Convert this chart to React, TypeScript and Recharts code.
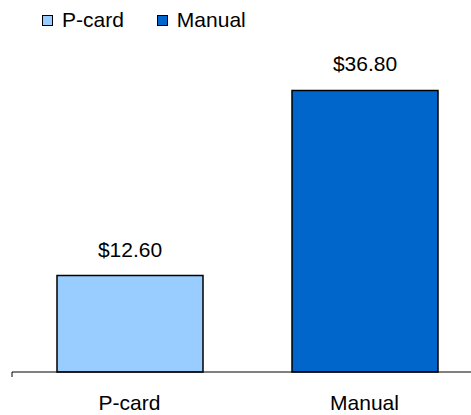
import { BarChart, Bar, XAxis, YAxis, Cell, LabelList } from 'recharts';

const categories = ['P-card', 'Manual'];
const costs = [12.6, 36.8];
const barColors = ['#99CCFF', '#0066CC'];

const data = categories.map((name, i) => ({ name, cost: costs[i] }));

const FONT = '"Liberation Sans", Arial, sans-serif';

function formatDollars(v: number): string {
  return `$${Number(v).toFixed(2)}`;
}

// tick lines only, no tick text
function NoTickText() {
  return <g />;
}

function LegendRow() {
  return (
    <div
      style={{
        position: 'absolute',
        top: 8,
        left: 42,
        display: 'flex',
        alignItems: 'center',
        fontSize: 21,
        fontFamily: FONT,
        color: '#000',
        zIndex: 1,
      }}
    >
      {categories.map((name, i) => (
        <div key={name} style={{ display: 'flex', alignItems: 'center', marginRight: 33 }}>
          <span
            style={{
              display: 'inline-block',
              width: 9,
              height: 9,
              background: barColors[i],
              border: '1.5px solid #000',
              marginRight: 9,
            }}
          />
          <span>{name}</span>
        </div>
      ))}
    </div>
  );
}

export default function App() {
  return (
    <div
      style={{
        position: 'absolute',
        left: 0,
        top: 0,
        width: 471,
        height: 415,
        overflow: 'hidden',
        background: '#fff',
        fontFamily: FONT,
      }}
    >
      <LegendRow />
      <BarChart width={490} height={415} data={data} margin={{ top: 66, right: 8, left: 12, bottom: 0 }}>
        {/* axis line with boundary ticks between categories */}
        <XAxis
          xAxisId={0}
          type="number"
          domain={[0, 2]}
          ticks={[0, 1, 2]}
          tick={NoTickText}
          tickSize={5}
          height={1}
          axisLine={{ stroke: '#000', strokeWidth: 1 }}
          tickLine={{ stroke: '#000', strokeWidth: 1 }}
        />
        <XAxis
          xAxisId="labels"
          dataKey="name"
          axisLine={false}
          tickLine={false}
          tickSize={0}
          tickMargin={22}
          height={42}
          interval={0}
          tick={{ fill: '#000', fontSize: 21, fontFamily: FONT }}
        />
        <YAxis hide domain={[0, 40]} />
        <Bar
          xAxisId="labels"
          dataKey="cost"
          barSize={146}
          stroke="#000"
          strokeWidth={1.5}
          isAnimationActive={false}
        >
          {data.map((entry, i) => (
            <Cell key={entry.name} fill={barColors[i]} />
          ))}
          <LabelList
            dataKey="cost"
            position="top"
            offset={19}
            formatter={formatDollars}
            fill="#000"
            fontSize={21}
            fontFamily={FONT}
          />
        </Bar>
      </BarChart>
    </div>
  );
}
